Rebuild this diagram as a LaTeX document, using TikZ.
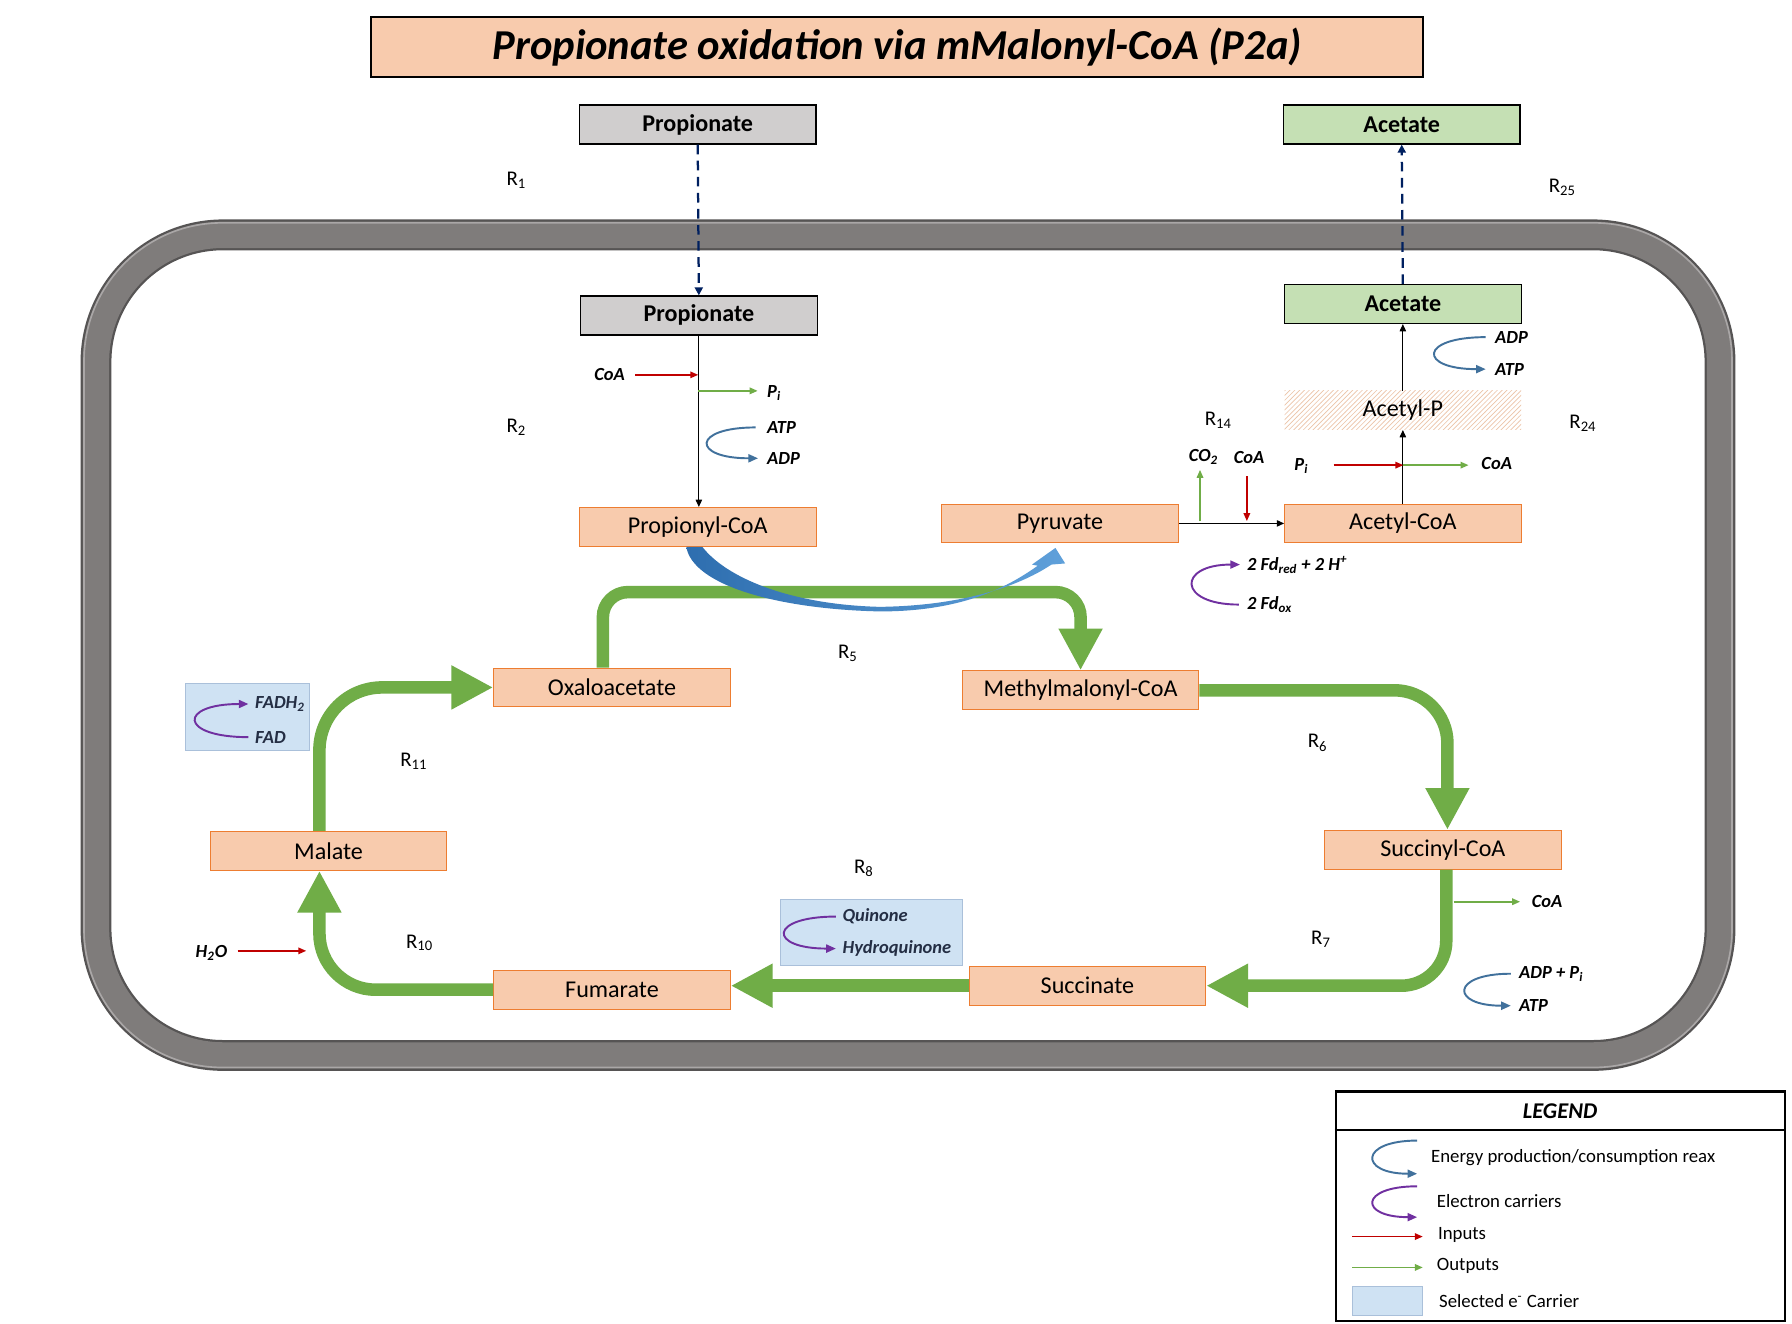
\documentclass[tikz,border=0pt]{standalone}
\usepackage{fontspec}
\setmainfont{Carlito}
\usetikzlibrary{arrows.meta,patterns,calc}

\definecolor{boxfill}{RGB}{248,203,173}
\definecolor{boxline}{RGB}{237,125,49}
\definecolor{grayfill}{RGB}{208,206,206}
\definecolor{greenfill}{RGB}{197,224,180}
\definecolor{cycgreen}{RGB}{112,173,71}
\definecolor{inred}{RGB}{192,0,0}
\definecolor{energyblue}{RGB}{65,113,156}
\definecolor{carrierpurple}{RGB}{112,48,160}
\definecolor{selfill}{RGB}{207,226,243}
\definecolor{selline}{RGB}{170,192,218}
\definecolor{seltext}{RGB}{36,46,68}
\definecolor{transnavy}{RGB}{0,32,96}
\definecolor{wallgray}{RGB}{127,124,123}
\definecolor{walldark}{RGB}{86,84,84}
\definecolor{walllight}{RGB}{170,167,167}
\definecolor{hatchtan}{RGB}{236,196,168}
\definecolor{swooshdark}{RGB}{46,110,175}
\definecolor{swooshlight}{RGB}{95,160,218}

\tikzset{
  met/.style={draw=boxline, fill=boxfill, line width=0.6pt, minimum width=5.175cm,
    minimum height=0.85cm, inner sep=0pt, font=\fontsize{15}{18}\selectfont},
  hatched/.style={pattern=north east lines, pattern color=hatchtan, minimum width=5.175cm,
    minimum height=0.85cm, inner sep=0pt, font=\fontsize{15}{18}\selectfont},
  ext/.style={draw=black, line width=0.8pt, minimum width=5.175cm, minimum height=0.85cm,
    inner sep=0pt, font=\bfseries\fontsize{15}{18}\selectfont},
  lab/.style={inner sep=0pt, font=\bfseries\itshape\fontsize{11.5}{13}\selectfont},
  rlab/.style={inner sep=0pt, anchor=west, font=\fontsize{13}{15}\selectfont},
  legtxt/.style={inner sep=0pt, anchor=west, font=\fontsize{11.7}{13}\selectfont},
  selbox/.style={draw=selline, fill=selfill, line width=0.6pt, inner sep=0pt},
  cyc/.style={draw=cycgreen, line width=7.8pt, -{Triangle[width=25.6pt,length=26pt]}},
  inarrow/.style={draw=inred, line width=1.1pt, -{Triangle[width=4pt,length=5pt]}},
  outarrow/.style={draw=cycgreen, line width=1.1pt, -{Triangle[width=4pt,length=5pt]}},
  energy/.style={draw=energyblue, line width=1.2pt, -{Triangle[width=5pt,length=6pt]}},
  carrier/.style={draw=carrierpurple, line width=1.2pt, -{Triangle[width=5pt,length=6pt]}},
  rxn/.style={draw=black, line width=0.6pt, -{Triangle[width=4pt,length=4.5pt]}},
  transport/.style={draw=transnavy, line width=1.4pt, dash pattern=on 6pt off 4pt,
    -{Triangle[width=5pt,length=5pt]}}
}

\begin{document}
\begin{tikzpicture}[x=0.025cm, y=-0.025cm]
  \useasboundingbox (0,0) rectangle (1568,1158);
  \fill[white] (0,0) rectangle (1568,1158);

  % cell wall
  \draw[walldark, line width=19.2pt, rounded corners=79pt] (84,205.5) rectangle (1505,923.5);
  \draw[wallgray, line width=16.4pt, rounded corners=79pt] (84,205.5) rectangle (1505,923.5);
  \draw[walllight, line width=1pt, rounded corners=86pt] (73.5,195) rectangle (1515.5,934);

  % title
  \node[draw, line width=1.2pt, fill=boxfill, minimum width=23cm, minimum height=1.325cm,
    font=\bfseries\itshape\fontsize{26.5}{30}\selectfont] (title) at (785,41)
    {Propionate oxidation via mMalonyl-CoA (P2a)};

  % metabolites
  \node[ext, fill=grayfill] (propout) at (610.5,109) {Propionate};
  \node[ext, fill=grayfill] (propin) at (611.5,276) {Propionate};
  \node[ext, fill=greenfill] (acetout) at (1226.5,109) {Acetate};
  \node[ext, fill=greenfill] (acetin) at (1227.5,266) {Acetate};
  \node[met] (propcoa) at (610.5,461) {Propionyl-CoA};
  \node[met] (pyr) at (927.5,458) {Pyruvate};
  \node[met] (acecoa) at (1227.5,458) {Acetyl-CoA};
  \node[hatched] (acep) at (1227.5,359) {Acetyl-P};
  \node[met] (oxalo) at (535.5,601.5) {Oxaloacetate};
  \node[met] (mmcoa) at (945.5,604) {Methylmalonyl-CoA};
  \node[met] (succoa) at (1262.5,743.5) {Succinyl-CoA};
  \node[met] (malate) at (287.5,744.5) {Malate};
  \node[met] (fum) at (535.5,866) {Fumarate};
  \node[met] (succ) at (951.5,862.5) {Succinate};

  % selected carriers
  \node[selbox, minimum width=2.725cm, minimum height=1.475cm] (fadbox) at (216.5,627.5) {};
  \node[selbox, minimum width=3.975cm, minimum height=1.45cm] (quinbox) at (762.5,816) {};

  % reaction labels
  \node[rlab] (r1) at (443,158) {R\textsubscript{1}};
  \node[rlab] (r2) at (443,374) {R\textsubscript{2}};
  \node[rlab] (r5) at (733,572) {R\textsubscript{5}};
  \node[rlab] (r6) at (1144,650) {R\textsubscript{6}};
  \node[rlab] (r7) at (1147,822) {R\textsubscript{7}};
  \node[rlab] (r8) at (747,760) {R\textsubscript{8}};
  \node[rlab] (r10) at (355,825) {R\textsubscript{10}};
  \node[rlab] (r11) at (350,666) {R\textsubscript{11}};
  \node[rlab] (r14) at (1054,368) {R\textsubscript{14}};
  \node[rlab] (r24) at (1373,370) {R\textsubscript{24}};
  \node[rlab] (r25) at (1355,164) {R\textsubscript{25}};

  % transport
  \draw[transport] (propout.south) -- (propin.north);
  \draw[transport] (acetin.north) -- (acetout.south);

  % main reactions
  \draw[rxn] (propin.south) -- (propin.south |- propcoa.north);
  \draw[rxn] (pyr.east) -- (acecoa.west);
  \draw[rxn] (acecoa.north) -- (acep.south);
  \draw[rxn] (acep.north) -- (acetin.south);

  % R2
  \coordinate (r2in) at (611,328);
  \coordinate (r2out) at (611,342);
  \node[lab, anchor=east] (coa1) at (547,328) {CoA};
  \node[lab, anchor=west] (pi1) at (671,344) {P\textsubscript{i}};
  \node[lab, anchor=west] (atp1) at (671,374) {ATP};
  \node[lab, anchor=west] (adp1) at (671,401) {ADP};
  \draw[inarrow, shorten <=6.4pt] (coa1.east) -- (r2in);
  \draw[outarrow, shorten >=5.7pt] (r2out) -- (r2out -| pi1.west);
  \draw[energy, shorten <=7pt, shorten >=5.5pt] (atp1.west) .. controls +(-66,0) and +(-66,0) .. (adp1.west);

  % R14
  \coordinate (r14out) at (1050,456);
  \coordinate (r14in) at (1091,456);
  \node[lab] (co2) at (1053,400) {CO\textsubscript{2}};
  \node[lab] (coa2) at (1093,400) {CoA};
  \node[lab, anchor=west] (fdred) at (1091,494) {2 Fd\textsubscript{red} + 2 H\textsuperscript{+}};
  \node[lab, anchor=west] (fdox) at (1091,529) {2 Fd\textsubscript{ox}};
  \draw[outarrow, shorten >=3pt] (r14out) -- (r14out |- co2.south);
  \draw[inarrow, shorten <=8pt] (coa2.south -| r14in) -- (r14in);
  \draw[carrier, shorten <=5pt, shorten >=4.3pt] (fdox.west) .. controls +(-61,0) and +(-61,0) .. (fdred.west);

  % R24
  \coordinate (r24in) at (1228,407);
  \node[lab, anchor=east] (pi2) at (1145,408) {P\textsubscript{i}};
  \node[lab, anchor=west] (coa3) at (1296,406) {CoA};
  \node[lab, anchor=west] (adp2) at (1308,295) {ADP};
  \node[lab, anchor=west] (atp2) at (1308,323) {ATP};
  \draw[inarrow, shorten <=15.6pt] (pi2.east |- r24in) -- (r24in);
  \draw[outarrow, shorten >=7.8pt] (r24in) -- (r24in -| coa3.west);
  \draw[energy, shorten <=5.7pt, shorten >=5.7pt] (adp2.west) .. controls +(-67,0) and +(-67,0) .. (atp2.west);

  % R7
  \coordinate (r7out) at (1272,789);
  \node[lab, anchor=west] (coa4) at (1340,789) {CoA};
  \node[lab, anchor=west] (adpp) at (1329,852) {ADP + P\textsubscript{i}};
  \node[lab, anchor=west] (atp3) at (1329,880) {ATP};
  \draw[outarrow, shorten >=7pt] (r7out) -- (r7out -| coa4.west);
  \draw[energy, shorten <=5pt, shorten >=5pt] (adpp.west) .. controls +(-60,0) and +(-60,0) .. (atp3.west);

  % R8
  \node[lab, anchor=west, text=seltext] (quin) at (737,802) {Quinone};
  \node[lab, anchor=west, text=seltext] (hydq) at (737,830) {Hydroquinone};
  \draw[carrier, shorten <=4pt, shorten >=4pt] (quin.west) .. controls +(-65,0) and +(-65,0) .. (hydq.west);

  % R10
  \coordinate (r10in) at (268,832);
  \node[lab, anchor=east] (h2o) at (199,834) {H\textsubscript{2}O};
  \draw[inarrow, shorten <=6.4pt] (h2o.east |- r10in) -- (r10in);

  % R11
  \node[lab, anchor=west, text=seltext] (fadh) at (223,616) {FADH\textsubscript{2}};
  \node[lab, anchor=west, text=seltext] (fad) at (223,645) {FAD};
  \draw[carrier, shorten <=4pt, shorten >=4pt] (fad.west) .. controls +(-67,0) and +(-67,0) .. (fadh.west);

  % cycle
  \draw[cyc, rounded corners=39pt] ($(malate.north)+(-8,0)$) |- (oxalo.west);
  \draw[cyc, rounded corners=15.6pt] ($(oxalo.north)+(-8,0)$) -- ++(0,-66) -| (mmcoa.north);
  \draw[cyc, rounded corners=33pt] (mmcoa.east) -| ($(succoa.north)+(4,0)$);
  \draw[cyc, rounded corners=28pt] ($(succoa.south)+(3,0)$) |- (succ.east);
  \draw[cyc] (succ.west) -- (succ.west -| fum.east);
  \draw[cyc, rounded corners=35pt] (fum.west) -| ($(malate.south)+(-8,0)$);

  % propionyl-CoA to pyruvate
  \shade[left color=swooshdark, right color=swooshlight]
    ($(propcoa.south)+(-10,0)$) .. controls (606,512) and (680,533) .. (770,535)
    .. controls (840,535) and (880,515) .. (908,495) -- (903,494)
    -- ($(pyr.south)+(-4,4)$) -- (932,493) -- (920,494)
    .. controls (890,514) and (840,530) .. (770,531)
    .. controls (690,529) and (635,505) .. ($(propcoa.south)+(4,0)$) -- cycle;

  % legend
  \node[draw, line width=1.5pt, minimum width=9.825cm, minimum height=5.025cm, inner sep=0pt] (legend) at (1365.5,1055.5) {};
  \draw[line width=1.2pt] ($(legend.north west)+(0,35)$) -- ($(legend.north east)+(0,35)$);
  \node[font=\bfseries\itshape\fontsize{14}{16}\selectfont, inner sep=0pt] (legtitle) at (1365,972) {LEGEND};
  \coordinate (legE1) at (1240,998);
  \coordinate (legE2) at (1240,1027);
  \coordinate (legC1) at (1240,1038);
  \coordinate (legC2) at (1240,1065);
  \coordinate (legIn1) at (1183,1082);
  \coordinate (legIn2) at (1245,1082);
  \coordinate (legOut1) at (1183,1109);
  \coordinate (legOut2) at (1245,1109);
  \draw[energy] (legE1) .. controls +(-51,0) and +(-51,0) .. (legE2);
  \draw[carrier] (legC1) .. controls +(-51,0) and +(-51,0) .. (legC2);
  \draw[inarrow] (legIn1) -- (legIn2);
  \draw[outarrow] (legOut1) -- (legOut2);
  \node[selbox, minimum width=1.55cm, minimum height=0.625cm] (legsel) at (1214,1138.5) {};
  \node[legtxt] (legenergy) at (1252,1013) {Energy production/consumption reax};
  \node[legtxt] (legcarrier) at (1257,1051) {Electron carriers};
  \node[legtxt] (leginput) at (1258,1081) {Inputs};
  \node[legtxt] (legoutput) at (1257,1108) {Outputs};
  \node[legtxt] (legselect) at (1259,1138) {Selected e\textsuperscript{-} Carrier};
\end{tikzpicture}
\end{document}
